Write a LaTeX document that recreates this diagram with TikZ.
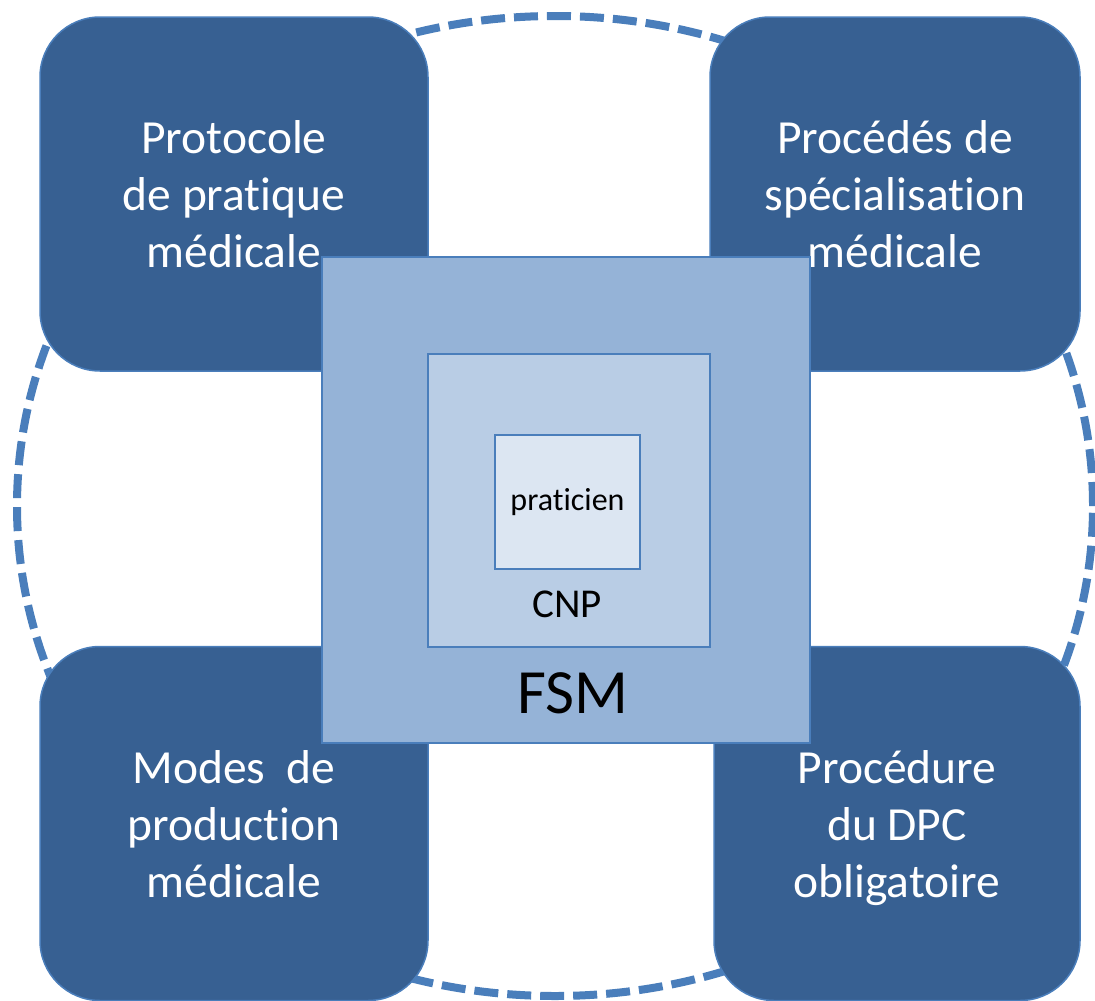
\documentclass[tikz,border=0pt]{standalone}
\usepackage{fontspec}
\setmainfont{Carlito}[Ligatures=NoCommon]
\definecolor{darkblue}{RGB}{55,96,146}
\definecolor{boxline}{RGB}{74,126,187}
\definecolor{fsmfill}{RGB}{149,179,215}
\definecolor{cnpfill}{RGB}{185,205,229}
\definecolor{pratfill}{RGB}{220,230,242}

\begin{document}
\begin{tikzpicture}[x=1pt,y=-1pt,
	corner/.style={rounded corners=60pt,draw=boxline,line width=1.5pt,fill=darkblue,text=white,text depth=0pt,minimum height=354pt,align=center,font=\fontsize{47.5}{57}\selectfont},
	layer/.style={draw=boxline,line width=2pt}]
\useasboundingbox (0,0) rectangle (1095,1001);
% ring
\draw [boxline,line width=8pt,dash pattern=on 24pt off 9pt] (555,506) ellipse [x radius=538pt,y radius=490pt];
% the four corner boxes
\node [corner,minimum width=388pt] (protocole) at (234,194) {Protocole\\de pratique\\médicale};
\node [corner,minimum width=370pt] (procedes) at (895,194) {Procédés de\\spécialisation\\médicale};
\node [corner,minimum width=388pt] (modes) at (234,823.5) {Modes\ \ de\\production\\médicale};
\node [corner,minimum width=366pt] (procedure) at (897,823.5) {Procédure\\du DPC\\obligatoire};
% nested squares
\node [layer,fill=fsmfill,minimum width=488pt,minimum height=486pt] (fsm) at (566,500) {};
\node [layer,fill=cnpfill,minimum width=282pt,minimum height=293pt] (cnp) at (569,500.5) {};
\node [layer,fill=pratfill,minimum width=145pt,minimum height=134pt,font=\fontsize{32}{38}\selectfont] (prat) at (567.5,502) {praticien};
\node [anchor=base,font=\fontsize{41}{49}\selectfont] (cnplabel) at (567,617.5) {CNP};
\node [anchor=base,font=\fontsize{63}{75}\selectfont] (fsmlabel) at (573,713) {FSM};
\end{tikzpicture}
\end{document}
